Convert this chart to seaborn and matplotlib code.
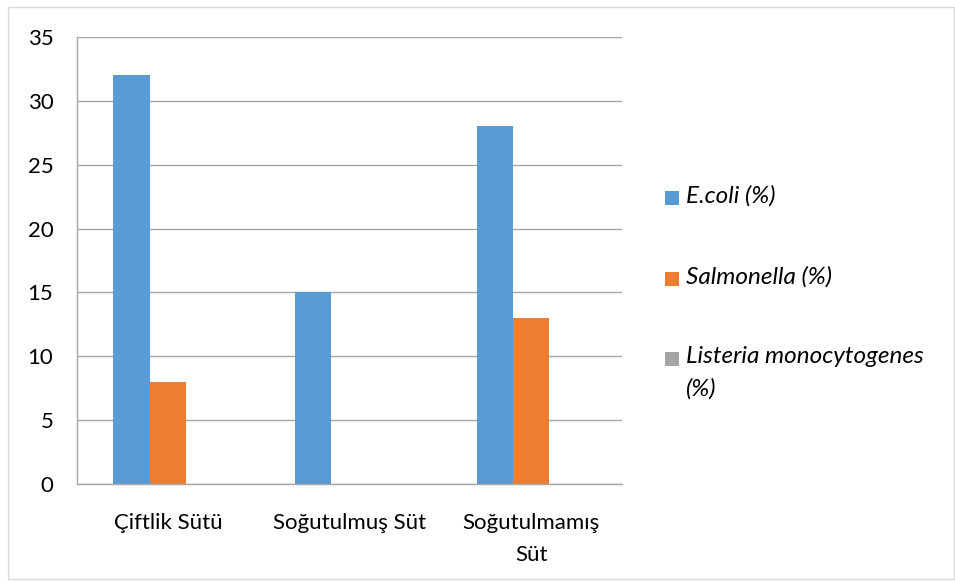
import matplotlib
matplotlib.use("Agg")
import matplotlib.pyplot as plt
from matplotlib.patches import Rectangle
import seaborn as sns
import pandas as pd

categories = ["Çiftlik Sütü", "Soğutulmuş Süt", "Soğutulmamış\nSüt"]
series_names = ["E.coli (%)", "Salmonella (%)", "Listeria monocytogenes\n(%)"]
ecoli = [32, 15, 28]
salmonella = [8, 0, 13]
listeria = [0, 0, 0]
y_ticks = [0, 5, 10, 15, 20, 25, 30, 35]
colors = ["#5B9BD5", "#ED7D31", "#A5A5A5"]

rows = []
for name, vals in zip(series_names, [ecoli, salmonella, listeria]):
    for cat, v in zip(categories, vals):
        rows.append({"Kategori": cat, "Seri": name, "Değer": v})
df = pd.DataFrame(rows)

sns.set_theme(style="white")
plt.rcParams["font.family"] = ["Lato", "DejaVu Sans"]

FS = 16
FS_LEG = 17.5
fig = plt.figure(figsize=(9.55, 5.83), dpi=100)
W, H = 955, 583
ax = fig.add_axes([77 / W, 1 - 484 / H, (622 - 77) / W, (484 - 37) / H])

sns.barplot(data=df, x="Kategori", y="Değer", hue="Seri", order=categories,
            hue_order=series_names, palette=colors, width=0.6, saturation=1,
            edgecolor="none", linewidth=0, legend=False, ax=ax)

grid_c = "#A6A6A6"
ax.set_ylim(0, 35)
ax.set_xlim(-0.5, 2.5)
ax.set_yticks(y_ticks)
ax.set_yticklabels([str(t) for t in y_ticks], fontsize=FS, color="#000000")
ax.yaxis.grid(True, color=grid_c, linewidth=1)
ax.set_axisbelow(True)
ax.set_xticks([0, 1, 2])
ax.set_xticklabels(categories, fontsize=FS, color="#000000", linespacing=1.75)
ax.set_xticks([-0.5, 0.5, 1.5, 2.5], minor=True)
ax.tick_params(axis="x", which="major", length=0, pad=21)
ax.tick_params(axis="x", which="minor", length=8, width=1, color=grid_c, direction="out")
ax.tick_params(axis="y", length=8, width=1, color=grid_c, direction="out", pad=9)
ax.set_xlabel("")
ax.set_ylabel("")
for side in ["top", "right"]:
    ax.spines[side].set_visible(False)
for side in ["left", "bottom"]:
    ax.spines[side].set_color(grid_c)
    ax.spines[side].set_linewidth(1)

# legend on the right, square markers with italic labels
legend_rows = [(191, series_names[0]), (272, series_names[1]), (352, series_names[2])]
for (top, label), col in zip(legend_rows, colors):
    fig.patches.append(Rectangle((665 / W, 1 - (top + 14) / H), 14 / W, 14 / H,
                                 transform=fig.transFigure, facecolor=col,
                                 edgecolor="none"))
    fig.text(686 / W, 1 - (top - 6) / H, label, fontsize=FS_LEG, style="italic",
             va="top", ha="left", color="#000000", linespacing=1.65)

# chart frame
fig.patches.append(Rectangle((8 / W, 1 - 579 / H), (954 - 8) / W, (579 - 7) / H,
                             transform=fig.transFigure, facecolor="none",
                             edgecolor="#D9D9D9", linewidth=1))

fig.savefig("out.png", dpi=100, facecolor="white")
